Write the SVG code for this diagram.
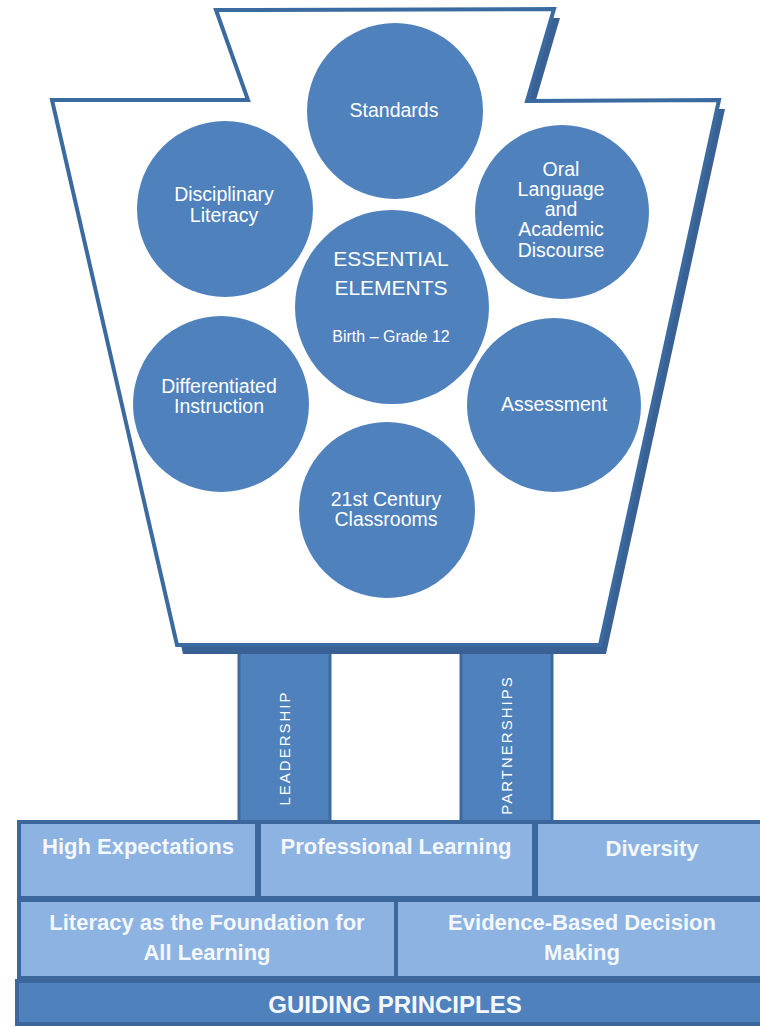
<svg xmlns="http://www.w3.org/2000/svg" width="760" height="1027" viewBox="0 0 760 1027">
<style>
.circ{fill:#4f81bd}
.ct{fill:#ffffff;font-family:"Liberation Sans",Arial,sans-serif;font-size:19.5px;text-anchor:middle}
.leg{fill:#4f81bd;stroke:#3d6a9e;stroke-width:3}
.lt{fill:#ffffff;font-family:"Liberation Sans",Arial,sans-serif;font-size:15px;letter-spacing:2px;text-anchor:middle}
.box{fill:#8db3e2;stroke:#3b679c;stroke-width:4}
.bar{fill:#4f81bd;stroke:#3b679c;stroke-width:4}
.bt{fill:#f4f7fb;font-family:"Liberation Sans",Arial,sans-serif;font-size:22px;font-weight:bold;text-anchor:middle}
</style>
<rect width="760" height="1027" fill="#ffffff"/>
<g id="legs">
<g id="leadership"><rect class="leg" x="239" y="650" width="91" height="174"/><text class="lt" transform="translate(290,748) rotate(-90)">LEADERSHIP</text></g>
<g id="partnerships"><rect class="leg" x="461" y="650" width="91" height="174"/><text class="lt" transform="translate(512,745) rotate(-90)">PARTNERSHIPS</text></g>
</g>
<g id="keystone">
<polygon transform="translate(6,9)" points="216,10 554,9 527,101 719,100 600,645 177,645 52,100 248,100" fill="#3a6194"/>
<polygon points="216,10 554,9 527,101 719,100 600,645 177,645 52,100 248,100" fill="#ffffff" stroke="#3b6aa0" stroke-width="4" stroke-linejoin="miter"/>
</g>
<g id="standards"><circle class="circ" cx="395" cy="111" r="88"/><text class="ct" x="394" y="117">Standards</text></g>
<g id="disciplinary"><circle class="circ" cx="225" cy="209" r="88"/><text class="ct" x="224" y="201">Disciplinary</text><text class="ct" x="224" y="222">Literacy</text></g>
<g id="oral"><circle class="circ" cx="562" cy="212" r="87"/><text class="ct" x="561" y="176">Oral</text><text class="ct" x="561" y="196">Language</text><text class="ct" x="561" y="216">and</text><text class="ct" x="561" y="236">Academic</text><text class="ct" x="561" y="257">Discourse</text></g>
<g id="essential"><circle class="circ" cx="392" cy="307" r="97"/><text class="ct" x="391" y="266" style="font-size:21px">ESSENTIAL</text><text class="ct" x="391" y="295" style="font-size:21px">ELEMENTS</text><text class="ct" x="391" y="342" style="font-size:16px">Birth – Grade 12</text></g>
<g id="differentiated"><circle class="circ" cx="221" cy="404" r="88"/><text class="ct" x="219" y="393">Differentiated</text><text class="ct" x="219" y="413">Instruction</text></g>
<g id="assessment"><circle class="circ" cx="554" cy="405" r="87"/><text class="ct" x="554" y="411">Assessment</text></g>
<g id="century"><circle class="circ" cx="387" cy="510" r="88"/><text class="ct" x="386" y="506">21st Century</text><text class="ct" x="386" y="526">Classrooms</text></g>
<g id="principles">
<g id="high"><rect class="box" x="19" y="822" width="238" height="76"/><text class="bt" x="138" y="854">High Expectations</text></g>
<g id="professional"><rect class="box" x="259" y="822" width="275" height="76"/><text class="bt" x="396" y="854">Professional Learning</text></g>
<g id="diversity"><rect class="box" x="536" y="822" width="230" height="76"/><text class="bt" x="652" y="856">Diversity</text></g>
<g id="literacy"><rect class="box" x="19" y="900" width="377" height="78"/><text class="bt" x="207" y="930">Literacy as the Foundation for</text><text class="bt" x="207" y="960">All Learning</text></g>
<g id="evidence"><rect class="box" x="396" y="900" width="370" height="78"/><text class="bt" x="582" y="930">Evidence-Based Decision</text><text class="bt" x="582" y="960">Making</text></g>
<g id="guiding"><rect class="bar" x="17" y="981" width="750" height="43"/><text class="bt" x="395" y="1013" style="font-size:24px">GUIDING PRINCIPLES</text></g>
</g>
</svg>
